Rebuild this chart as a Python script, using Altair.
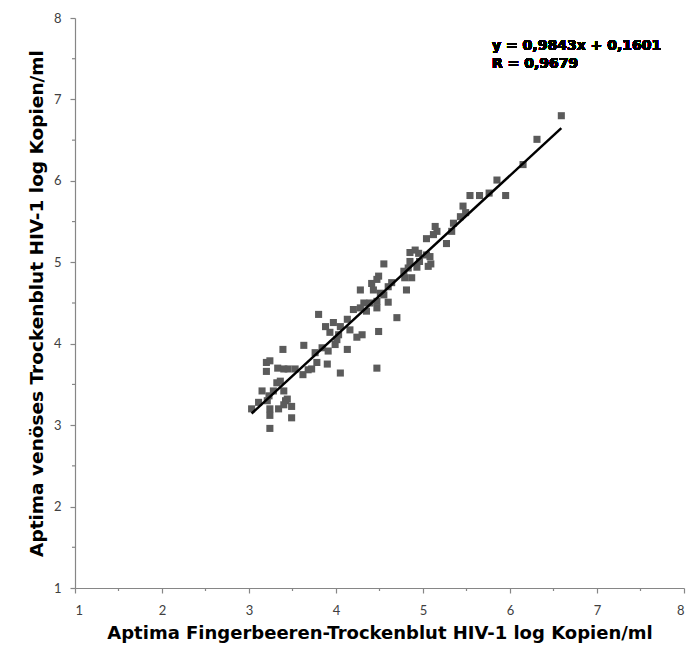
import altair as alt
import pandas as pd

# Scatter values
x_vals = [3.39, 3.63, 3.20, 3.24, 3.20, 3.33, 3.40, 3.45, 3.53, 3.62,
          3.68, 3.72, 3.78, 3.90, 4.05, 3.76, 3.84, 3.91, 3.99, 4.01,
          3.93, 4.13, 3.32, 3.36, 3.40, 3.28, 3.15, 3.23, 3.11, 3.21,
          3.42, 3.44, 3.40, 3.49, 3.34, 3.24, 3.03, 3.24, 3.49, 3.24,
          3.80, 3.88, 3.97, 4.05, 4.13, 4.16, 4.03,
          4.55, 4.49, 4.47, 4.41, 4.28, 4.43, 4.51, 4.60, 4.64, 4.79,
          4.87, 4.81, 4.55, 4.60, 4.47, 4.32, 4.39, 4.28, 4.20, 4.35,
          4.47, 4.70, 4.30, 4.24, 4.49, 4.47, 4.83, 4.93, 4.85, 4.96,
          5.09, 5.06, 4.78,
          5.54, 5.65, 5.76, 5.95, 5.46, 5.49, 5.43, 5.35, 5.33, 5.14,
          5.16, 5.12, 5.04, 5.27, 4.91, 4.85, 4.95, 5.04, 5.08,
          6.59, 6.31, 6.15, 5.85]
y_vals = [3.93, 3.98, 3.77, 3.79, 3.66, 3.70, 3.69, 3.69, 3.69, 3.62,
          3.68, 3.69, 3.77, 3.75, 3.64, 3.89, 3.95, 3.91, 3.99, 4.05,
          4.14, 3.93, 3.52, 3.54, 3.42, 3.42, 3.42, 3.36, 3.28, 3.30,
          3.30, 3.32, 3.25, 3.23, 3.20, 3.20, 3.20, 3.12, 3.09, 2.96,
          4.36, 4.21, 4.26, 4.21, 4.30, 4.17, 4.11,
          4.98, 4.83, 4.79, 4.74, 4.66, 4.66, 4.62, 4.70, 4.75, 4.81,
          4.81, 4.66, 4.60, 4.51, 4.52, 4.50, 4.50, 4.44, 4.42, 4.40,
          4.44, 4.32, 4.11, 4.08, 4.15, 3.70, 4.93, 4.94, 5.01, 5.01,
          4.98, 4.95, 4.89,
          5.82, 5.82, 5.85, 5.82, 5.69, 5.61, 5.56, 5.48, 5.38, 5.44,
          5.38, 5.34, 5.29, 5.23, 5.15, 5.12, 5.11, 5.09, 5.07,
          6.80, 6.51, 6.20, 6.01]

# Trend line as stated in the chart
fit_x = [3.03, 6.59]
slope = 0.9843
intercept = 0.1601

major_ticks = [1, 2, 3, 4, 5, 6, 7, 8]
minor_ticks = [1.5, 2.5, 3.5, 4.5, 5.5, 6.5, 7.5]
eq_lines = ["y  = 0,9843x + 0,1601", "R = 0,9679"]

x_title = "Aptima Fingerbeeren-Trockenblut HIV-1 log Kopien/ml"
y_title = "Aptima venöses Trockenblut HIV-1 log Kopien/ml"

W, H = 609, 570
TITLE_FONT = "DejaVu Sans"

pts = pd.DataFrame({"x": x_vals, "y": y_vals})
fit = pd.DataFrame({"x": fit_x})
fit["y"] = slope * fit["x"] + intercept
mdf = pd.DataFrame({"x": minor_ticks, "y": minor_ticks})

xs = alt.Scale(domain=[1, 8], nice=False, zero=False)
ys = alt.Scale(domain=[1, 8], nice=False, zero=False)

axis_common = dict(
    domainColor="#868686", domainWidth=1.2, tickColor="#868686", tickWidth=1.2,
    tickSize=5, labelFont="Lato", labelFontSize=13, labelColor="#404040",
    titleFont=TITLE_FONT, titleFontWeight="bold",
    titleColor="black", grid=False, values=major_ticks, format="d",
)
x_axis = alt.Axis(title=x_title, labelPadding=11, titlePadding=7,
                  titleFontSize=18, **axis_common)
y_axis = alt.Axis(title=y_title, labelPadding=9, titlePadding=7,
                  titleFontSize=18.5, **axis_common)

points = alt.Chart(pts).mark_square(size=50, color="#5b5b5b", opacity=1).encode(
    x=alt.X("x:Q", scale=xs, axis=x_axis),
    y=alt.Y("y:Q", scale=ys, axis=y_axis),
)

line = alt.Chart(fit).mark_line(color="black", strokeWidth=2.5).encode(
    x=alt.X("x:Q", scale=xs, axis=x_axis), y=alt.Y("y:Q", scale=ys, axis=y_axis)
)

xminor = alt.Chart(mdf).mark_rule(color="#868686", strokeWidth=1.2).encode(
    x=alt.X("x:Q", scale=xs, axis=x_axis), y=alt.value(H), y2=alt.value(H + 3)
)
yminor = alt.Chart(mdf).mark_rule(color="#868686", strokeWidth=1.2).encode(
    y=alt.Y("y:Q", scale=ys, axis=y_axis), x=alt.value(-3), x2=alt.value(0)
)

txt1 = alt.Chart(pts).mark_text(
    align="left", baseline="alphabetic", font=TITLE_FONT,
    fontSize=14, fontWeight="bold", color="black"
).encode(x=alt.value(417), y=alt.value(32), text=alt.value(eq_lines[0]))
txt2 = alt.Chart(pts).mark_text(
    align="left", baseline="alphabetic", font=TITLE_FONT,
    fontSize=14, fontWeight="bold", color="black"
).encode(x=alt.value(417), y=alt.value(49.5), text=alt.value(eq_lines[1]))

chart = alt.layer(points, line, xminor, yminor, txt1, txt2).properties(
    width=W, height=H,
    autosize=alt.AutoSizeParams(type="none"),
    padding={"left": 67, "top": 10, "right": 4, "bottom": 58},
    background="white",
).configure_view(stroke=None)

chart.save("out.html", embed_options={"renderer": "svg", "actions": False})
